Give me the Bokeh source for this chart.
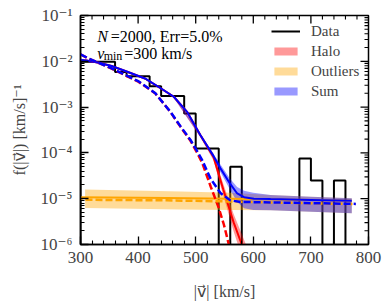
import numpy as np
from bokeh.plotting import figure
from bokeh.models import (Range1d, FixedTicker, Legend, LegendItem, Label)
from bokeh.embed import file_html
from bokeh.resources import INLINE

# ---------------- data ----------------
bin_edges = [300, 320, 340, 360, 380, 400, 420, 440, 460, 480, 500, 520, 540,
             560, 580, 600, 620, 640, 660, 680, 700, 720, 740, 760, 780]
data_f = [0.0098, 0.0098, 0.0098, 0.00585, 0.00472, 0.00472, 0.00285,
          0.00175, 0.00175, 0.000725, 0.000125, 0.000125, 0.0, 5e-5, 0.0,
          0.0, 0.0, 0.0, 0.0, 7.5e-5, 2.5e-5, 0.0, 2.5e-5, 0.0]

# halo fit (red solid) and its band
halo_v = [300, 330, 354, 380, 412, 440, 462, 485, 508, 531, 548, 566, 580, 592]
halo_f = [0.0108, 0.00937, 0.00791, 0.00597, 0.00421, 0.00255, 0.00168,
          7.9e-4, 2.46e-4, 8.1e-5, 1.57e-5, 3.0e-6, 1.0e-6, 3.5e-7]
halo_band_v = [308, 354, 412, 462, 508, 531, 548, 566, 580, 592]
halo_hi = [0.0112, 0.0082, 0.0044, 0.00178, 2.7e-4, 9.6e-5, 2.1e-5, 4.6e-6, 1.7e-6, 7e-7]
halo_lo = [0.0104, 0.0076, 0.0040, 0.00158, 2.2e-4, 6.8e-5, 1.15e-5, 1.9e-6, 5.5e-7, 1.5e-7]

# true halo (red dashed)
halo_true_v = [300, 314, 354, 401, 430, 456, 474, 491, 503, 511, 526, 540, 549, 557.5, 566]
halo_true_f = [0.0142, 0.01146, 0.00694, 0.00355, 0.00199, 7.85e-4, 3.65e-4,
               1.83e-4, 9.8e-5, 6.2e-5, 1.85e-5, 6.3e-6, 2.7e-6, 1.0e-6, 3.5e-7]

# outliers fit (orange solid), band, true (orange dashed)
out_v = [300, 450, 560, 700, 771]
out_f = [1.08e-5, 1.04e-5, 1.0e-5, 9.4e-6, 9.0e-6]
out_band_v = [308, 474, 560, 630, 700, 771]
out_hi = [1.58e-5, 1.44e-5, 1.35e-5, 1.2e-5, 1.1e-5, 1.02e-5]
out_lo = [6.3e-6, 5.8e-6, 5.7e-6, 5.6e-6, 5.2e-6, 4.8e-6]
out_true_v = [300, 450, 560, 630, 700, 778]
out_true_f = [9.5e-6, 9.2e-6, 8.7e-6, 8.3e-6, 7.95e-6, 7.65e-6]

# sum fit (blue solid), band, true (blue dashed)
sum_v = [300, 330, 354, 380, 412, 440, 462, 485, 508, 531, 543, 560, 572,
         584, 601, 630, 700, 771]
sum_f = [0.0108, 0.00938, 0.00792, 0.00598, 0.00422, 0.00255, 0.00168,
         7.9e-4, 2.47e-4, 8.5e-5, 4.6e-5, 2.1e-5, 1.3e-5, 1.08e-5, 1.0e-5,
         9.8e-6, 9.4e-6, 9.0e-6]
sum_band_v = [308, 354, 412, 462, 508, 531, 543, 560, 572, 584, 600, 630, 700, 771]
sum_hi = [0.0113, 0.0082, 0.0044, 0.00176, 2.65e-4, 9.5e-5, 5.6e-5, 2.7e-5,
          1.8e-5, 1.5e-5, 1.35e-5, 1.2e-5, 1.1e-5, 1.02e-5]
sum_lo = [0.0104, 0.0076, 0.0040, 0.0016, 2.25e-4, 7.4e-5, 3.8e-5, 1.55e-5,
          8.5e-6, 6.2e-6, 5.7e-6, 5.6e-6, 5.2e-6, 4.8e-6]
sum_true_v = [300, 314, 354, 401, 430, 456, 474, 491, 503, 511, 526, 543,
              560, 578, 630, 700, 778]
sum_true_f = [0.0142, 0.01155, 0.00703, 0.00364, 0.0020, 7.94e-4, 3.74e-4,
              1.92e-4, 1.07e-4, 7.05e-5, 2.7e-5, 1.33e-5, 9.2e-6, 8.5e-6,
              8.3e-6, 8.0e-6, 7.7e-6]

xtick_vals = [300, 400, 500, 600, 700, 800]
ytick_vals = [1e-6, 1e-5, 1e-4, 1e-3, 1e-2, 1e-1]
ytick_labels = ["10⁻⁶", "10⁻⁵", "10⁻⁴", "10⁻³", "10⁻²", "10⁻¹"]

legend_labels = ["Data", "Halo", "Outliers", "Sum"]
annot_N = "N"
annot_rest = "=2000, Err=5.0%"
annot_v = "v"
annot_sub = "min"
annot_vrest = "=300 km/s"

# ---------------- styling ----------------
SERIF = "'Liberation Serif', 'DejaVu Serif', 'DejaVu Sans', 'Noto Sans', serif"
ALPHA = 0.4
X0, X1 = 300, 800
Y0, Y1 = 1e-6, 1e-1

p = figure(width=390, height=306, x_range=Range1d(X0, X1),
           y_range=Range1d(Y0, Y1), y_axis_type="log",
           output_backend="svg", toolbar_location=None,
           min_border_left=80, min_border_right=22, min_border_top=15,
           min_border_bottom=62)
p.grid.visible = False
p.background_fill_color = "white"
p.border_fill_color = "white"
p.outline_line_color = "black"
p.outline_line_width = 1.5

# histogram as step outline
edges = np.array(bin_edges, dtype=float)
vals = np.array(data_f, dtype=float)
floor = 1e-9
vals_plot = np.where(vals > 0, vals, floor)
hx = np.concatenate([[edges[0]], np.repeat(edges, 2)[1:-1], [edges[-1]]])
hy = np.concatenate([[floor], np.repeat(vals_plot, 2), [floor]])
r_data = p.line(hx, hy, line_color="black", line_width=2)

# bands
r_halo_band = p.varea(x=halo_band_v, y1=halo_lo, y2=halo_hi, fill_color="red", fill_alpha=ALPHA)
r_out_band = p.varea(x=out_band_v, y1=out_lo, y2=out_hi, fill_color="orange", fill_alpha=ALPHA)
r_sum_band = p.varea(x=sum_band_v, y1=sum_lo, y2=sum_hi, fill_color="blue", fill_alpha=ALPHA)

# fits
p.line(halo_v, halo_f, line_color="red", line_width=2)
p.line(out_v, out_f, line_color="orange", line_width=2)
p.line(sum_v, sum_f, line_color="blue", line_width=2)

# true curves (dashed)
p.line(halo_true_v, halo_true_f, line_color="red", line_width=2.5, line_dash="7 3")
p.line(out_true_v, out_true_f, line_color="orange", line_width=2.5, line_dash="7 3",
       line_dash_offset=5)
p.line(sum_true_v, sum_true_f, line_color="blue", line_width=2.5, line_dash="7 3")

# axes
minor_x = list(range(300, 801, 20))
minor_y = [k * d for d in ytick_vals[:-1] for k in range(2, 10)]
overrides = {v: s for v, s in zip(ytick_vals, ytick_labels)}


def style_axis(ax):
    ax.axis_line_color = "black"
    ax.axis_line_width = 1.5
    ax.major_tick_line_color = "black"
    ax.minor_tick_line_color = "black"
    ax.major_tick_line_width = 1.3
    ax.minor_tick_line_width = 1.1
    ax.major_tick_in = 8
    ax.major_tick_out = 0
    ax.minor_tick_in = 4
    ax.minor_tick_out = 0


for ax in p.xaxis:
    ax.ticker = FixedTicker(ticks=xtick_vals, minor_ticks=minor_x)
    style_axis(ax)
    ax.major_label_text_font = SERIF
    ax.major_label_text_font_size = "17px"
    ax.major_label_standoff = 7
    ax.axis_label = "|v\u20d7| [km/s]"
    ax.axis_label_text_font = SERIF
    ax.axis_label_text_font_style = "normal"
    ax.axis_label_text_font_size = "16px"
    ax.axis_label_standoff = 17

for ax in p.yaxis:
    ax.ticker = FixedTicker(ticks=ytick_vals, minor_ticks=minor_y)
    style_axis(ax)
    ax.major_label_overrides = overrides
    ax.major_label_text_font = SERIF
    ax.major_label_text_font_size = "17px"
    ax.major_label_standoff = 8
    ax.axis_label = "f(|v\u20d7|) [km/s]⁻¹"
    ax.axis_label_text_font = SERIF
    ax.axis_label_text_font_style = "normal"
    ax.axis_label_text_font_size = "16px"
    ax.axis_label_standoff = 10

# mirrored inward ticks on top and right edges (dash markers clipped by frame)
major_x_in = [t for t in xtick_vals if X0 < t < X1]
minor_x_in = [t for t in minor_x if X0 < t < X1 and t not in xtick_vals]
major_y_in = [t for t in ytick_vals if Y0 < t < Y1]
minor_y_in = [t for t in minor_y if Y0 < t < Y1]
p.scatter(x=major_x_in, y=[Y1] * len(major_x_in), marker="dash", angle=np.pi / 2,
          size=16, line_color="black", line_width=1.3)
p.scatter(x=minor_x_in, y=[Y1] * len(minor_x_in), marker="dash", angle=np.pi / 2,
          size=8, line_color="black", line_width=1.1)
p.scatter(x=[X1] * len(major_y_in), y=major_y_in, marker="dash",
          size=16, line_color="black", line_width=1.3)
p.scatter(x=[X1] * len(minor_y_in), y=minor_y_in, marker="dash",
          size=8, line_color="black", line_width=1.1)

# legend
legend = Legend(items=[
    LegendItem(label=legend_labels[0], renderers=[r_data]),
    LegendItem(label=legend_labels[1], renderers=[r_halo_band]),
    LegendItem(label=legend_labels[2], renderers=[r_out_band]),
    LegendItem(label=legend_labels[3], renderers=[r_sum_band]),
], location=(191, 143))
legend.background_fill_alpha = 0
legend.border_line_color = None
legend.padding = 0
legend.spacing = 0
legend.margin = 0
legend.glyph_width = 29
legend.glyph_height = 10
legend.label_height = 20
legend.label_standoff = 11
legend.label_text_font = SERIF
legend.label_text_font_size = "15px"
legend.label_text_baseline = "middle"
p.add_layout(legend)

# annotations
common = dict(text_font=SERIF, text_color="black", text_baseline="alphabetic")
p.add_layout(Label(x=329, y=0.034, text=annot_N, text_font_size="16px",
                   text_font_style="italic", **common))
p.add_layout(Label(x=329, y=0.034, x_offset=13.5, text=annot_rest,
                   text_font_size="16px", **common))
p.add_layout(Label(x=329, y=0.0149, text=annot_v, text_font_size="16px",
                   text_font_style="italic", **common))
p.add_layout(Label(x=329, y=0.0149, x_offset=6.5, y_offset=-3, text=annot_sub,
                   text_font_size="12px", **common))
p.add_layout(Label(x=329, y=0.0149, x_offset=27, text=annot_vrest,
                   text_font_size="16px", **common))

open("out.html", "w").write(file_html(p, INLINE))
